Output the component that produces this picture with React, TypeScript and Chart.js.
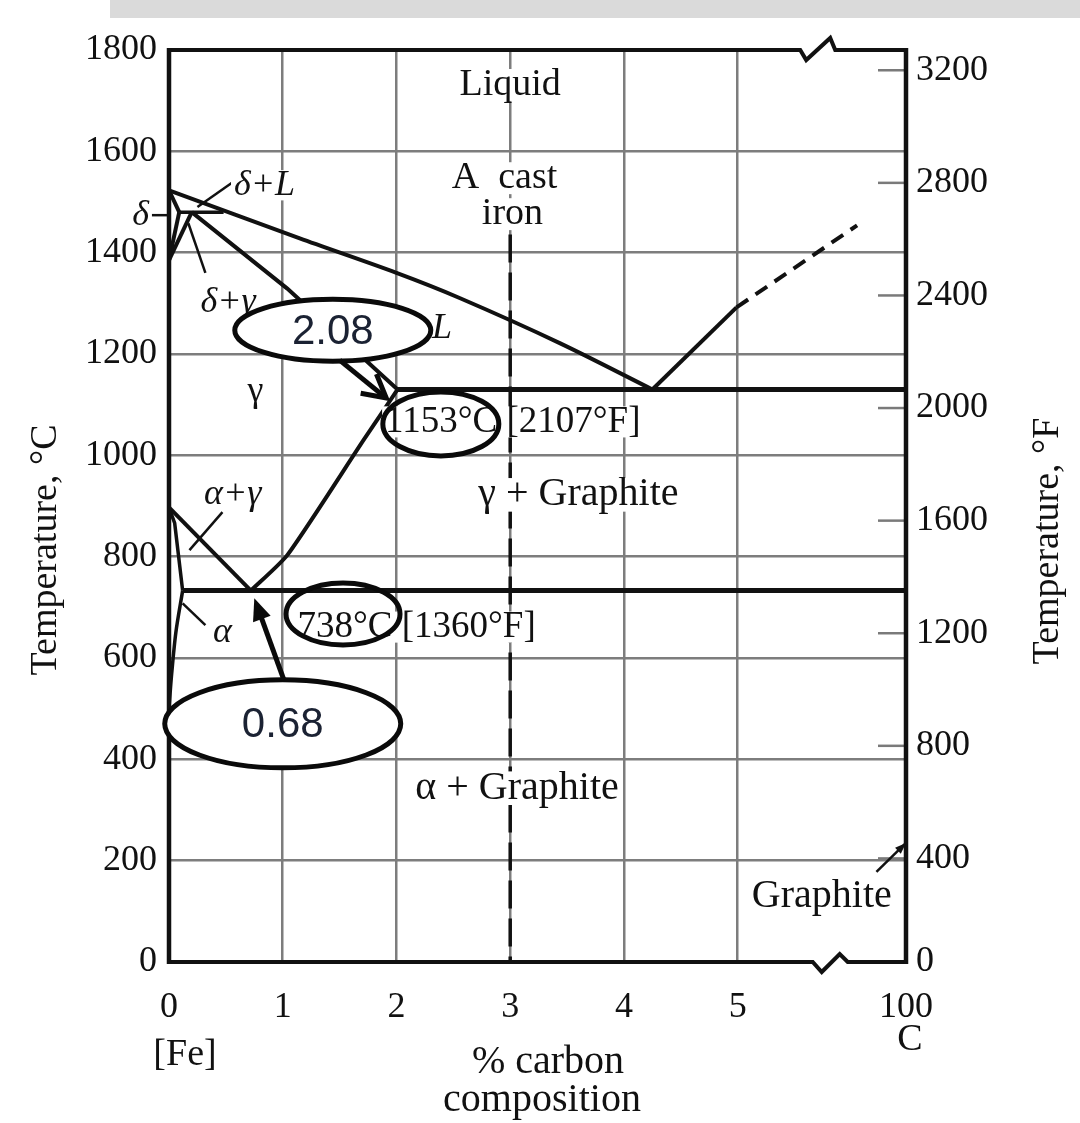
import React, { useEffect, useRef } from 'react';
import { Chart, registerables } from 'chart.js';

Chart.register(...registerables);

const SERIF = "'Liberation Serif', 'Times New Roman', serif";
const SANS = "'Liberation Sans', Arial, sans-serif";

// ---------- axes ----------
const X_TICKS = [0, 1, 2, 3, 4, 5];
const X_END = 6.48; // position of the "100" (pure C) tick after the axis break
const X_END_LABEL = '100';
const Y_MIN = 0;
const Y_MAX = 1800;
const Y_STEP = 200;
const F_TICKS = [0, 400, 800, 1200, 1600, 2000, 2400, 2800, 3200];
const BREAK_TOP = 5.55;
const BREAK_BOTTOM = 5.66;

// ---------- phase boundaries [wt% C, °C] ----------
type P = [number, number];
const LIQUIDUS_FE: P[] = [[0, 1523], [1.15, 1428], [2.0, 1360], [2.56, 1310], [3.44, 1221], [4.25, 1130]];
const LIQUIDUS_GR: P[] = [[4.25, 1130], [4.99, 1292]];
const LIQUIDUS_GR_EXT: P[] = [[4.99, 1292], [6.05, 1454]];
const EUTECTIC: P[] = [[2.01, 1130], [6.48, 1130]];
const SOLIDUS_GAMMA: P[] = [[0.2, 1480], [1.04, 1329], [2.01, 1130]];
const ACM: P[] = [[2.01, 1130], [1.71, 1030], [1.04, 803], [0.72, 733]];
const A3: P[] = [[0, 897], [0.72, 733]];
const EUTECTOID: P[] = [[0.12, 733], [6.48, 733]];
const ALPHA_GAMMA: P[] = [[0, 897], [0.05, 866], [0.12, 733]];
const ALPHA_SOLVUS: P[] = [[0.12, 733], [0.06, 650], [0.02, 560], [0, 500]];
const DELTA_SOLIDUS: P[] = [[0, 1523], [0.09, 1480]];
const DELTA_GAMMA: P[] = [[0.09, 1480], [0, 1385]];
const GAMMA_DELTA: P[] = [[0.2, 1480], [0, 1385]];
const PERITECTIC: P[] = [[0.09, 1480], [0.48, 1480]];
const CAST_IRON: P[] = [[3, 1436], [3, 0]];

// ---------- region labels [text, wt% C, °C, italic, font px] ----------
const LABELS: [string, number, number, boolean, number][] = [
  ['Liquid', 3.0, 1731, false, 38],
  ['A  cast', 2.95, 1547, false, 38],
  ['iron', 3.02, 1476, false, 38],
  ['δ+L', 0.84, 1533, true, 36],
  ['δ', -0.25, 1474, true, 36],
  ['δ+γ', 0.52, 1302, true, 36],
  ['L', 2.4, 1251, true, 36],
  ['γ', 0.76, 1125, false, 36],
  ['γ + Graphite', 3.6, 922, false, 40],
  ['α+γ', 0.56, 922, true, 36],
  ['α', 0.47, 651, true, 36],
  ['α + Graphite', 3.06, 343, false, 40],
  ['Graphite', 5.74, 130, false, 40],
];
// left-aligned notes [text, wt% C, °C]
const NOTES: [string, number, number][] = [
  ['1153°C [2107°F]', 1.9, 1066],
  ['738°C [1360°F]', 1.13, 661],
];
// pointer lines [x1, T1, x2, T2]
const POINTERS: [number, number, number, number][] = [
  [-0.17, 1474, 0.0, 1474],
  [0.56, 1539, 0.25, 1490],
  [0.32, 1360, 0.17, 1458],
  [0.47, 888, 0.18, 813],
  [0.32, 665, 0.12, 708],
];
const GRAPHITE_POINTER: [number, number, number, number] = [6.22, 178, 6.48, 235];
// highlighted values: [text, wt% C, °C, rx px, ry px, filled]
const CALLOUTS: [string, number, number, number, number, boolean][] = [
  ['2.08', 1.44, 1247, 98, 31, true],
  ['', 2.39, 1062, 58, 32, false],
  ['', 1.53, 687, 57, 31, false],
  ['0.68', 1.0, 470, 118, 44, true],
];
const ARROW_208: [number, number, number, number] = [1.5, 1188, 1.91, 1113];
const ARROW_068: [number, number, number, number] = [1.01, 557, 0.75, 718];

function mk(pts: P[], width: number, dash: number[] = [], tension = 0) {
  return {
    data: pts.map(([x, y]) => ({ x, y })),
    showLine: true,
    borderColor: '#111',
    backgroundColor: '#111',
    borderWidth: width,
    borderDash: dash,
    pointRadius: 0,
    tension,
    xAxisID: 'x',
    yAxisID: 'y',
  };
}

const overlay = {
  id: 'overlay',
  afterDatasetsDraw(chart: any) {
    const ctx: CanvasRenderingContext2D = chart.ctx;
    const xs = chart.scales.x;
    const ys = chart.scales.y;
    const y2 = chart.scales.y2;
    const X = (v: number) => xs.getPixelForValue(v);
    const Y = (v: number) => ys.getPixelForValue(v);
    const { left, right, top, bottom } = chart.chartArea;
    const seg = (x1: number, y1: number, x2: number, y2p: number) => {
      ctx.beginPath();
      ctx.moveTo(x1, y1);
      ctx.lineTo(x2, y2p);
      ctx.stroke();
    };
    ctx.save();
    ctx.lineCap = 'butt';

    // inward ticks of the °F axis
    ctx.strokeStyle = '#7a7a7a';
    ctx.lineWidth = 2.5;
    F_TICKS.forEach((f) => {
      if (f < y2.min) return;
      const yy = y2.getPixelForValue(f);
      seg(right - 28, yy, right, yy);
    });

    // frame with axis breaks
    ctx.strokeStyle = '#111';
    ctx.lineWidth = 4;
    ctx.lineJoin = 'miter';
    const zt = X(BREAK_TOP);
    ctx.beginPath();
    ctx.moveTo(left, top);
    ctx.lineTo(zt, top);
    ctx.lineTo(zt + 6, top + 10);
    ctx.lineTo(zt + 30, top - 12);
    ctx.lineTo(zt + 35, top);
    ctx.lineTo(right, top);
    ctx.stroke();
    const zb = X(BREAK_BOTTOM);
    ctx.beginPath();
    ctx.moveTo(left, bottom);
    ctx.lineTo(zb, bottom);
    ctx.lineTo(zb + 9, bottom + 10);
    ctx.lineTo(zb + 27, bottom - 8);
    ctx.lineTo(zb + 35, bottom);
    ctx.lineTo(right, bottom);
    ctx.stroke();
    ctx.lineWidth = 4.5;
    seg(left, top - 2, left, bottom + 2);
    seg(right, top - 2, right, bottom + 2);

    // pointer lines
    ctx.lineWidth = 2.5;
    POINTERS.forEach(([a, b, c, d]) => seg(X(a), Y(b), X(c), Y(d)));
    {
      const [a, b, c, d] = GRAPHITE_POINTER;
      const x1 = X(a), y1 = Y(b), x2 = X(c), y2p = Y(d);
      seg(x1, y1, x2, y2p);
      const ang = Math.atan2(y2p - y1, x2 - x1);
      ctx.beginPath();
      ctx.moveTo(x2, y2p);
      ctx.lineTo(x2 - 12 * Math.cos(ang - 0.35), y2p - 12 * Math.sin(ang - 0.35));
      ctx.lineTo(x2 - 12 * Math.cos(ang + 0.35), y2p - 12 * Math.sin(ang + 0.35));
      ctx.closePath();
      ctx.fillStyle = '#111';
      ctx.fill();
    }

    // region labels
    const text = (t: string, x: number, y: number, size: number, italic: boolean, alignLeft: boolean) => {
      ctx.font = `${italic ? 'italic ' : ''}${size}px ${SERIF}`;
      const w = ctx.measureText(t).width;
      const x0 = alignLeft ? x : x - w / 2;
      ctx.fillStyle = '#fff';
      ctx.fillRect(x0 - 3, y - size * 0.42, w + 6, size * 0.84);
      ctx.fillStyle = '#111';
      ctx.textAlign = 'left';
      ctx.textBaseline = 'middle';
      ctx.fillText(t, x0, y);
    };
    LABELS.forEach(([t, x, y, it, sz]) => text(t, X(x), Y(y), sz, it, false));
    NOTES.forEach(([t, x, y]) => text(t, X(x), Y(y), 37, false, true));

    // callout ellipses
    CALLOUTS.forEach(([t, x, y, rx, ry, filled]) => {
      const cx = X(x), cy = Y(y);
      ctx.beginPath();
      ctx.ellipse(cx, cy, rx, ry, 0, 0, Math.PI * 2);
      if (filled) {
        ctx.fillStyle = '#fff';
        ctx.fill();
      }
      ctx.strokeStyle = '#0a0a0a';
      ctx.lineWidth = 5;
      ctx.stroke();
      if (t) {
        ctx.font = `42px ${SANS}`;
        ctx.fillStyle = '#1b2233';
        ctx.textAlign = 'center';
        ctx.textBaseline = 'middle';
        ctx.fillText(t, cx, cy + 2);
      }
    });

    // arrows
    ctx.strokeStyle = '#0a0a0a';
    ctx.fillStyle = '#0a0a0a';
    {
      const [a, b, c, d] = ARROW_208;
      const x1 = X(a), y1 = Y(b), x2 = X(c), y2p = Y(d);
      ctx.lineWidth = 5;
      seg(x1, y1, x2, y2p);
      const ang = Math.atan2(y2p - y1, x2 - x1);
      ctx.beginPath();
      ctx.moveTo(x2 - 26 * Math.cos(ang - 0.5), y2p - 26 * Math.sin(ang - 0.5));
      ctx.lineTo(x2, y2p);
      ctx.lineTo(x2 - 26 * Math.cos(ang + 0.5), y2p - 26 * Math.sin(ang + 0.5));
      ctx.stroke();
    }
    {
      const [a, b, c, d] = ARROW_068;
      const x1 = X(a), y1 = Y(b), x2 = X(c), y2p = Y(d);
      const ang = Math.atan2(y2p - y1, x2 - x1);
      ctx.lineWidth = 5;
      seg(x1, y1, x2 - 14 * Math.cos(ang), y2p - 14 * Math.sin(ang));
      ctx.beginPath();
      ctx.moveTo(x2, y2p);
      ctx.lineTo(x2 - 24 * Math.cos(ang - 0.4), y2p - 24 * Math.sin(ang - 0.4));
      ctx.lineTo(x2 - 24 * Math.cos(ang + 0.4), y2p - 24 * Math.sin(ang + 0.4));
      ctx.closePath();
      ctx.fill();
    }

    // axis titles & end labels
    ctx.fillStyle = '#111';
    ctx.textAlign = 'center';
    ctx.textBaseline = 'middle';
    ctx.font = `38px ${SERIF}`;
    const rot = (t: string, x: number, y: number) => {
      ctx.save();
      ctx.translate(x, y);
      ctx.rotate(-Math.PI / 2);
      ctx.fillText(t, 0, 0);
      ctx.restore();
    };
    rot('Temperature, °C', 46, 550);
    rot('Temperature, °F', 1048, 541);
    ctx.font = `40px ${SERIF}`;
    ctx.fillText('% carbon', 548, 1062);
    ctx.fillText('composition', 542, 1100);
    ctx.font = `38px ${SERIF}`;
    ctx.fillText('[Fe]', 185, 1055);
    ctx.fillText('C', 910, 1040);
    ctx.restore();
  },
};

export default function App() {
  const ref = useRef<HTMLCanvasElement | null>(null);
  useEffect(() => {
    if (!ref.current) return;
    const chart = new Chart(ref.current, {
      type: 'scatter',
      data: {
        datasets: [
          mk(LIQUIDUS_FE, 4, [], 0.3),
          mk(LIQUIDUS_GR, 4),
          mk(LIQUIDUS_GR_EXT, 4, [14, 9]),
          mk(EUTECTIC, 5),
          mk(SOLIDUS_GAMMA, 4),
          mk(ACM, 4, [], 0.2),
          mk(A3, 4),
          mk(EUTECTOID, 5),
          mk(ALPHA_GAMMA, 3.5),
          mk(ALPHA_SOLVUS, 3.5, [], 0.3),
          mk(DELTA_SOLIDUS, 4),
          mk(DELTA_GAMMA, 4),
          mk(GAMMA_DELTA, 4),
          mk(PERITECTIC, 3.5),
          mk(CAST_IRON, 3.5, [28, 10]),
        ] as any,
      },
      options: {
        animation: false,
        responsive: false,
        devicePixelRatio: 1,
        layout: { padding: { top: 50, left: 0, right: 0, bottom: 0 } },
        plugins: { legend: { display: false }, tooltip: { enabled: false } },
        scales: {
          x: {
            type: 'linear',
            min: 0,
            max: X_END,
            afterBuildTicks: (s: any) => {
              s.ticks = [...X_TICKS, X_END].map((v) => ({ value: v }));
            },
            afterFit: (s: any) => {
              s.height = 161;
            },
            ticks: {
              autoSkip: false,
              maxRotation: 0,
              padding: 24,
              color: '#111',
              font: { family: SERIF, size: 36 },
              callback: (v: any) => (v === X_END ? X_END_LABEL : String(v)),
            },
            grid: {
              drawTicks: false,
              lineWidth: 2.5,
              color: (c: any) =>
                c.tick && (c.tick.value === 0 || c.tick.value === X_END) ? 'rgba(0,0,0,0)' : '#7d7d7d',
            },
            border: { display: false },
          },
          y: {
            type: 'linear',
            position: 'left',
            min: Y_MIN,
            max: Y_MAX,
            afterFit: (s: any) => {
              s.width = 169;
            },
            ticks: {
              stepSize: Y_STEP,
              padding: 12,
              color: '#111',
              font: { family: SERIF, size: 36 },
              callback: (v: any) => String(v),
            },
            grid: {
              drawTicks: false,
              lineWidth: 2.5,
              color: (c: any) =>
                c.tick && (c.tick.value === Y_MIN || c.tick.value === Y_MAX) ? 'rgba(0,0,0,0)' : '#7d7d7d',
            },
            border: { display: false },
          },
          y2: {
            type: 'linear',
            position: 'right',
            min: (Y_MIN * 9) / 5 + 32,
            max: (Y_MAX * 9) / 5 + 32,
            afterBuildTicks: (s: any) => {
              s.ticks = F_TICKS.map((f) => ({ value: Math.max(f, s.min) }));
            },
            afterFit: (s: any) => {
              s.width = 174;
            },
            ticks: {
              autoSkip: false,
              padding: 10,
              color: '#111',
              font: { family: SERIF, size: 36 },
              callback: (_v: any, i: number) => String(F_TICKS[i]),
            },
            grid: { drawOnChartArea: false, drawTicks: false },
            border: { display: false },
          },
        },
      } as any,
      plugins: [overlay],
    });
    return () => chart.destroy();
  }, []);

  return (
    <div style={{ position: 'fixed', left: 0, top: 0, width: 1080, height: 1123, background: '#fff' }}>
      <div style={{ position: 'absolute', left: 110, top: 0, width: 970, height: 18, background: '#dadada' }} />
      <canvas ref={ref} width={1080} height={1123} style={{ position: 'absolute', left: 0, top: 0, width: 1080, height: 1123 }} />
    </div>
  );
}
